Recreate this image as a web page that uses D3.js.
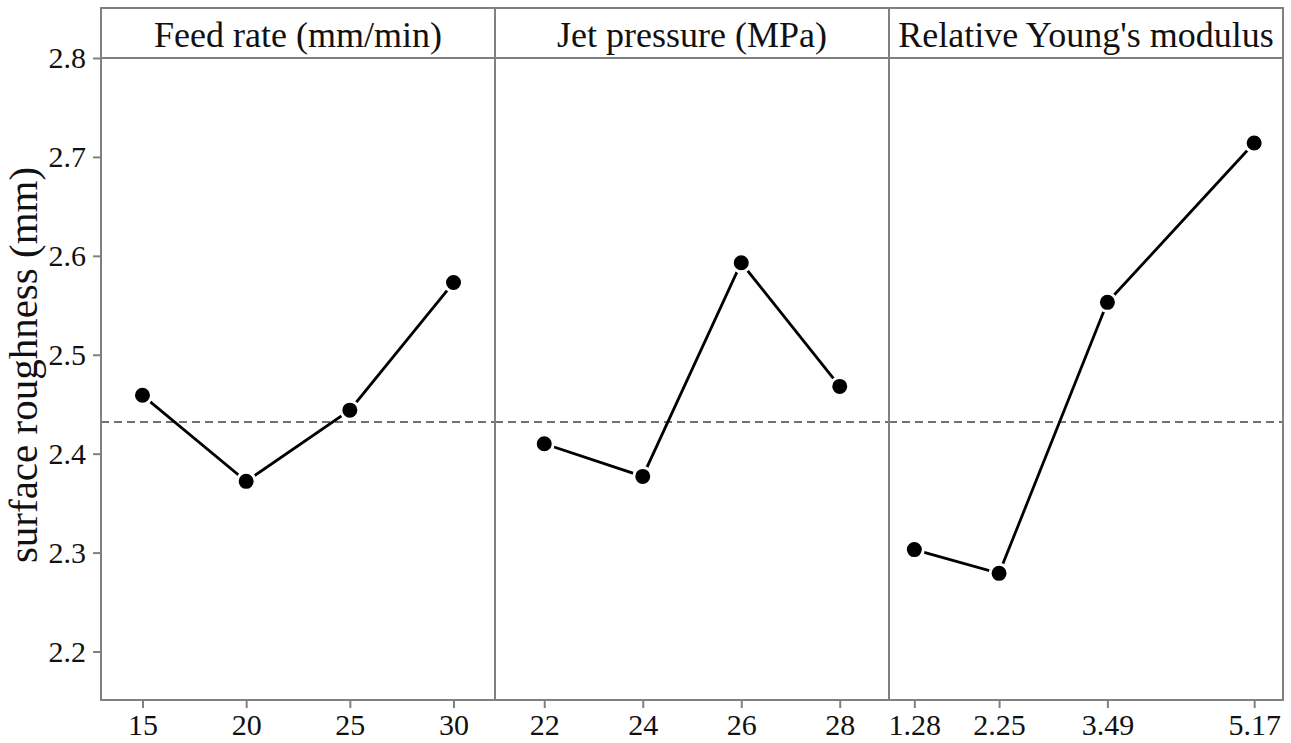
<!DOCTYPE html>
<html>
<head>
<meta charset="utf-8">
<script src="https://cdn.jsdelivr.net/npm/d3@7"></script>
<style>
  html, body { margin: 0; padding: 0; background: #fff; }
  svg { display: block; font-family: "Liberation Serif", "Times New Roman", serif; }
</style>
</head>
<body>
<svg id="chart" width="1291" height="743"></svg>
<script>
// main effects data
const factorNames = ['Feed rate (mm/min)', 'Jet pressure (MPa)', "Relative Young's modulus"];
const feedLevels = [15, 20, 25, 30];
const feedMeans = [2.459, 2.372, 2.444, 2.573];
const jetLevels = [22, 24, 26, 28];
const jetMeans = [2.410, 2.377, 2.593, 2.468];
const modulusLevels = [1.28, 2.25, 3.49, 5.17];
const modulusMeans = [2.303, 2.279, 2.553, 2.714];
const overallMean = 2.432;
const yTicks = [2.2, 2.3, 2.4, 2.5, 2.6, 2.7, 2.8];
const yLabel = 'surface roughness (mm)';

const panels = [
    {name: factorNames[0], levels: feedLevels, means: feedMeans, domain: [13, 32]},
    {name: factorNames[1], levels: jetLevels, means: jetMeans, domain: [21, 29]},
    {name: factorNames[2], levels: modulusLevels, means: modulusMeans, domain: [0.99, 5.5]}
];

const plotLeft = 101, plotTop = 58, plotBottom = 700, headerH = 50, panelW = 394;
const frameColor = '#808080';

const svg = d3.select('#chart');

const y = d3.scaleLinear().domain([2.2, 2.8]).range([651.5, plotTop]);

// y axis on the far left
const yAxis = svg.append('g')
    .attr('transform', `translate(${plotLeft},0)`)
    .call(d3.axisLeft(y).tickValues(yTicks).tickSize(8).tickPadding(7).tickFormat(d3.format('.1f')));
yAxis.select('.domain').remove();
yAxis.selectAll('line').attr('stroke', frameColor).attr('stroke-width', 2);
yAxis.selectAll('text').attr('font-size', 30).attr('fill', '#111')
    .style('font-family', '"Liberation Serif", "Times New Roman", serif');

svg.append('text')
    .attr('transform', `translate(37,${(plotTop + plotBottom) / 2 - 14}) rotate(-90)`)
    .attr('text-anchor', 'middle')
    .attr('font-size', 41)
    .attr('fill', '#111')
    .text(yLabel);

panels.forEach(function(p, i) {
    const x0 = plotLeft + i * panelW;
    const g = svg.append('g').attr('transform', `translate(${x0},0)`);
    const x = d3.scaleLinear().domain(p.domain).range([0, panelW]);

    // header strip + title
    g.append('rect')
        .attr('x', 0).attr('y', plotTop - headerH)
        .attr('width', panelW).attr('height', headerH)
        .attr('fill', 'none').attr('stroke', frameColor).attr('stroke-width', 2);
    g.append('text')
        .attr('x', panelW / 2).attr('y', plotTop - 11)
        .attr('text-anchor', 'middle')
        .attr('font-size', 36)
        .attr('fill', '#111')
        .text(p.name);

    // x axis
    const xAxis = g.append('g')
        .attr('transform', `translate(0,${plotBottom})`)
        .call(d3.axisBottom(x).tickValues(p.levels).tickSize(8).tickPadding(6).tickFormat(d => String(d)));
    xAxis.select('.domain').remove();
    xAxis.selectAll('line').attr('stroke', frameColor).attr('stroke-width', 2);
    xAxis.selectAll('text').attr('font-size', 30).attr('fill', '#111')
        .style('font-family', '"Liberation Serif", "Times New Roman", serif');

    // overall mean reference
    g.append('line')
        .attr('x1', 0).attr('x2', panelW)
        .attr('y1', y(overallMean)).attr('y2', y(overallMean))
        .attr('stroke', '#444').attr('stroke-width', 1.6)
        .attr('stroke-dasharray', '8,5');

    // plot frame
    g.append('rect')
        .attr('x', 0).attr('y', plotTop)
        .attr('width', panelW).attr('height', plotBottom - plotTop)
        .attr('fill', 'none').attr('stroke', frameColor).attr('stroke-width', 2);

    const pts = p.levels.map((lv, j) => [lv, p.means[j]]);
    const line = d3.line().x(d => x(d[0])).y(d => y(d[1]));

    g.append('path')
        .attr('d', line(pts))
        .attr('fill', 'none').attr('stroke', '#000').attr('stroke-width', 2.8);

    g.selectAll('circle')
        .data(pts)
        .enter().append('circle')
        .attr('cx', d => x(d[0]))
        .attr('cy', d => y(d[1]))
        .attr('r', 9)
        .attr('fill', '#000')
        .attr('stroke', '#fff').attr('stroke-width', 3);
});
</script>
</body>
</html>
